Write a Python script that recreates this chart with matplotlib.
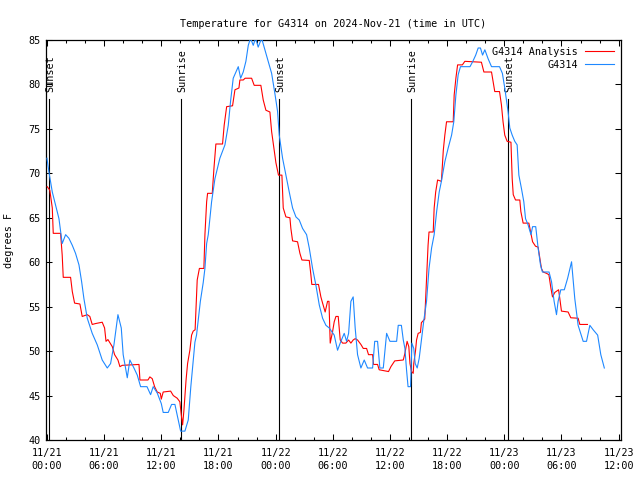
"""
Station temperature vs analysis plot
"""
import datetime as dt

import matplotlib

matplotlib.use("Agg")
import matplotlib.pyplot as plt
from matplotlib.ticker import FixedLocator, MultipleLocator

START = dt.datetime(2024, 11, 21, 0, 0)

# hours since 11/21 00:00 UTC
obs_hours = [
    0.0, 0.2, 0.56, 0.98, 1.26, 1.6, 1.96, 2.3, 2.66, 3.0, 3.36, 3.64, 3.88, 4.23,
    4.75, 5.28, 5.8, 6.33, 6.68, 7.03, 7.45, 7.8, 8.0, 8.43, 8.7, 9.13, 9.48, 9.83,
    10.5, 10.88, 11.15, 11.57, 12.0, 12.2, 12.73, 13.08, 13.43, 13.78, 14.03, 14.48,
    14.83, 15.1, 15.28, 15.53, 15.7, 16.1, 16.4, 16.58, 16.76, 16.93, 17.28, 17.63,
    18.15, 18.68, 19.03, 19.27, 19.55, 19.83, 20.08, 20.33, 20.6, 20.88, 21.13,
    21.37, 21.65, 21.9, 22.17, 22.53, 22.87, 23.22, 23.58, 23.92, 24.2, 24.38,
    24.73, 25.08, 25.43, 25.78, 26.13, 26.48, 26.83, 27.25, 27.53, 27.88, 28.23,
    28.58, 28.93, 29.28, 29.63, 30.15, 30.5, 30.85, 31.2, 31.45, 31.66, 31.9,
    32.14, 32.35, 32.6, 32.95, 33.3, 33.65, 34.18, 34.4, 34.7, 34.94, 35.3, 35.65,
    36.0, 36.7, 36.87, 37.2, 37.4, 37.57, 37.74, 37.9, 38.16, 38.3, 38.5, 38.65,
    38.86, 39.07, 39.3, 39.56, 39.84, 40.1, 40.37, 40.64, 40.9, 41.17, 41.4, 41.76,
    42.1, 42.47, 42.7, 42.92, 43.16, 43.4, 44.4, 44.7, 45.0, 45.26, 45.5, 45.72,
    45.96, 46.3, 46.66, 47.5, 47.8, 48.05, 48.4, 48.58, 48.83, 49.1, 49.35, 49.53,
    49.8, 50.05, 50.23, 50.5, 50.8, 50.97, 51.3, 51.55, 51.8, 52.0, 52.7, 52.96,
    53.23, 53.48, 53.65, 53.93, 54.3, 54.65, 55.06, 55.4, 55.75, 56.28, 56.63,
    56.98, 57.33, 57.8, 58.13, 58.5,
]
obs_temps = [
    71.7, 70.2, 67.9, 66.1, 64.9, 62.1, 63.1, 62.7, 61.9, 61.0, 59.7, 57.8, 55.9, 53.7,
    52.0, 50.7, 49.0, 48.1, 48.6, 50.7, 54.1, 52.6, 49.6, 47.0, 49.0, 48.1, 47.3, 46.0,
    46.0, 45.1, 46.0, 45.3, 44.1, 43.1, 43.1, 44.0, 44.0, 42.25, 41.0, 41.0,
    42.25, 46.0, 48.1, 51.0, 51.8, 55.6, 57.7, 59.3, 62.1, 63.1, 66.8, 69.4,
    71.7, 73.2, 75.4, 78.1, 80.7, 81.4, 82.0, 80.7, 81.4, 82.6, 84.4,
    85.2, 84.4, 85.2, 84.2, 85.2, 83.9, 82.6, 81.25, 79.0, 77.0, 74.3,
    71.7, 69.8, 67.9, 66.1, 65.1, 64.75, 63.8, 63.1, 61.6, 59.3, 57.4,
    55.2, 53.7, 52.9, 52.6, 51.8, 50.1, 51.1, 52.0, 51.1, 52.0, 55.6,
    56.1, 52.6, 49.6, 48.1, 49.0, 48.1, 48.1, 51.1, 51.1, 48.1, 48.1, 52.0,
    51.1, 51.1, 52.9, 52.9, 51.25, 50.3, 47.9, 46.0, 46.0, 50.9, 50.3, 48.6,
    48.1, 49.2, 51.25, 53.5, 55.6, 59.3, 61.6, 63.1, 65.7, 67.9, 69.1, 71.3,
    72.8, 74.3, 75.8, 78.8, 81.1, 82.0, 82.0, 82.6, 83.3, 84.1, 84.1, 83.3,
    83.9, 82.9, 82.0, 82.0, 81.25, 79.6, 76.9, 75.1, 74.3, 73.6, 73.2, 69.8,
    68.3, 66.8, 64.9, 64.2, 63.1, 64.0, 64.0, 61.6, 59.7, 58.9, 58.9, 57.8,
    55.6, 54.1, 55.6, 56.9, 56.9, 58.2, 60.05, 55.9, 52.9, 51.1, 51.1,
    52.9, 52.4, 51.8, 49.6, 48.1,
]

ana_hours = [
    0.03, 0.3, 0.56, 0.66, 1.43, 1.6, 1.71, 2.48, 2.66, 2.9, 3.46, 3.7, 4.23, 4.5,
    4.75, 5.1, 5.8, 6.05, 6.2, 6.4, 6.86, 7.1, 7.45, 7.66, 7.9, 9.66, 9.76, 10.6,
    10.8, 11.05, 11.3, 11.57, 11.9, 12.0, 12.2, 12.98, 13.26, 13.67, 13.95, 14.1,
    14.24, 14.38, 14.6, 14.76, 15.0, 15.18, 15.35, 15.55, 15.6, 15.77, 16.0, 16.47,
    16.58, 16.76, 16.86, 17.35, 17.53, 17.73, 18.43, 18.6, 18.86, 19.48, 19.73,
    20.15, 20.25, 20.6, 20.8, 21.48, 21.75, 22.45, 22.7, 22.98, 23.4, 23.58, 23.82,
    24.03, 24.3, 24.66, 24.8, 25.08, 25.5, 25.6, 25.78, 26.3, 26.55, 26.76, 27.53,
    27.7, 27.8, 28.5, 28.75, 28.93, 29.2, 29.45, 29.6, 29.73, 29.98, 30.15, 30.33,
    30.57, 30.67, 30.78, 31.03, 31.37, 31.66, 31.9, 32.14, 32.35, 32.6, 32.95,
    33.2, 33.55, 33.75, 34.18, 34.28, 34.7, 34.87, 35.85, 36.1, 36.5, 37.4, 37.57,
    37.8, 37.98, 38.1, 38.27, 38.44, 38.5, 38.69, 38.79, 38.96, 39.2, 39.3, 39.65,
    39.77, 39.9, 40.0, 40.1, 40.54, 40.64, 40.8, 41.0, 41.4, 41.6, 41.76, 41.94,
    42.64, 42.74, 42.92, 43.1, 43.6, 43.86, 45.6, 45.86, 46.66, 46.83, 47.0, 47.5,
    47.7, 47.87, 48.05, 48.3, 48.7, 48.83, 48.94, 49.18, 49.63, 49.74, 49.98,
    50.58, 50.79, 50.97, 51.28, 51.55, 51.9, 52.08, 52.43, 52.68, 52.89, 53.06,
    53.3, 53.7, 53.83, 54.0, 54.7, 54.98, 55.75, 55.93, 56.73,
]
ana_temps = [
    68.5, 68.1, 66.1, 63.25, 63.25, 60.8, 58.3, 58.3, 56.7, 55.4, 55.3, 53.9, 54.1, 53.9,
    53.0, 53.1, 53.25, 52.6, 51.1, 51.3, 50.5, 49.6, 49.0, 48.25, 48.4, 48.5, 46.75, 46.75,
    47.1, 46.9, 46.0, 45.4, 45.25, 44.6, 45.4, 45.5, 45.0, 44.7, 44.3, 42.8,
    41.7, 43.4, 46.75, 48.6, 50.1, 51.8, 52.25, 52.4, 53.7, 58.0, 59.3, 59.3,
    63.1, 66.8, 67.75, 67.75, 70.6, 73.3, 73.3, 75.4, 77.5, 77.6, 79.4,
    79.6, 80.5, 80.5, 80.7, 80.7, 79.9, 79.9, 78.25, 77.1, 76.9, 74.7, 72.8,
    71.2, 69.8, 69.8, 66.1, 65.1, 65.0, 63.8, 62.4, 62.3, 61.0, 60.25, 60.2,
    58.6, 57.5, 57.5, 56.1, 55.4, 54.4, 55.6, 55.6, 50.9, 52.2, 53.3, 53.9,
    53.9, 52.6, 51.25, 50.9, 50.9, 51.25, 50.9, 51.25, 51.4, 51.25, 50.75,
    50.3, 50.3, 49.6, 49.6, 48.5, 48.5, 47.9, 47.7, 48.25, 48.9, 49.0, 49.75,
    51.1, 50.5, 48.6, 47.7, 47.5, 48.6, 50.1, 51.25, 52.0, 52.1, 53.2, 53.6,
    56.5, 59.5, 61.9, 63.4, 63.4, 66.1, 67.9, 69.25, 69.1, 72.6, 74.3, 75.8,
    75.8, 78.8, 80.7, 82.2, 82.2, 82.6, 82.5, 81.4, 81.4, 80.3, 79.2, 79.2,
    77.7, 75.8, 74.3, 73.6, 73.5, 69.4, 67.6, 67.0, 67.0, 65.7, 64.4,
    64.4, 63.25, 62.3, 61.8, 61.7, 59.3, 58.9, 58.75, 58.6, 57.1, 56.1,
    56.6, 56.9, 55.9, 54.5, 54.4, 53.75, 53.7, 53.0, 53.0,
]

sun_hours = [0.24, 14.1, 24.38, 38.2, 48.4]
sun_labels = ["Sunset", "Sunrise", "Sunset", "Sunrise", "Sunset"]

tick_hours = list(range(0, 61, 6))

FONT = "DejaVu Sans Mono"
FS = 7.3
LW = 0.8


def plot_temperature() -> None:
    plt.rcParams["font.family"] = FONT
    plt.rcParams["font.size"] = FS

    fig = plt.figure(figsize=(6.4, 4.8), dpi=100)
    ax = fig.add_axes([46 / 640, 40 / 480, 575 / 640, 400 / 480])

    # sunrise / sunset markers
    for h, lab in zip(sun_hours, sun_labels):
        ax.plot([h, h], [40, 78.4], color="black", lw=LW, zorder=2)
        ax.annotate(lab, (h, 79.15), xytext=(1.1, 0), textcoords="offset points",
                    rotation=90, ha="center", va="bottom", fontsize=FS)

    ax.plot(ana_hours, ana_temps, color="#ff0000", lw=LW, label="G4314 Analysis", zorder=3)
    ax.plot(obs_hours, obs_temps, color="#1e88ff", lw=LW, label="G4314", zorder=3)

    ax.set_xlim(-0.1, 60.25)
    ax.set_ylim(40, 85)

    labels = []
    for h in tick_hours:
        d = START + dt.timedelta(hours=h)
        labels.append(f"{d:%m/%d}\n{d:%H:%M}")
    ax.xaxis.set_major_locator(FixedLocator(tick_hours))
    ax.set_xticklabels(labels, linespacing=1.35)
    ax.xaxis.set_minor_locator(MultipleLocator(2))
    ax.yaxis.set_major_locator(MultipleLocator(5))

    ax.tick_params(which="both", direction="in", top=True, right=True, width=0.75)
    ax.tick_params(which="major", length=4.5)
    ax.tick_params(which="minor", length=2.5)
    ax.tick_params(axis="x", pad=6)
    ax.tick_params(axis="y", pad=4)
    for s in ax.spines.values():
        s.set_linewidth(0.9)

    ax.set_ylabel("degrees F")
    ax.yaxis.set_label_coords(-0.055, 0.5)
    ax.set_title("Temperature for G4314 on 2024-Nov-21 (time in UTC)", pad=9, fontsize=FS)

    ax.legend(loc="upper right", frameon=False, markerfirst=False,
              handlelength=2.9, handletextpad=0.7, labelspacing=0.3,
              borderaxespad=0.35, borderpad=0.3)

    fig.savefig("out.png", dpi=100)


if __name__ == "__main__":
    plot_temperature()
